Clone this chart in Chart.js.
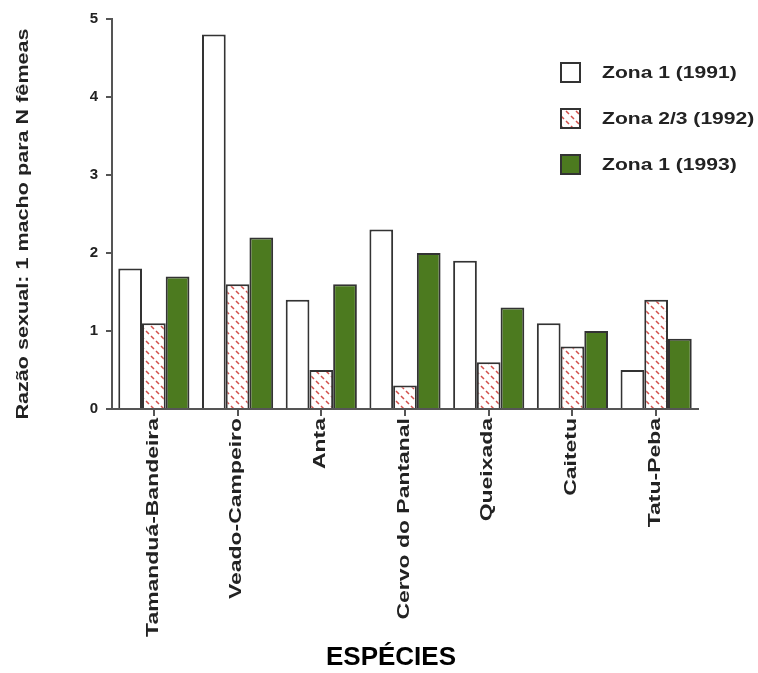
<!DOCTYPE html>
<html>
<head>
<meta charset="utf-8">
<script src="https://cdn.jsdelivr.net/npm/chart.js@4"></script>
<style>
  body { margin: 0; background: #fff; }
  #wrap { width: 758px; height: 673px; }
</style>
</head>
<body>
<div id="wrap"><canvas id="chart" width="758" height="673"></canvas></div>
<script>
// Data
const categories = ['Tamanduá-Bandeira', 'Veado-Campeiro', 'Anta', 'Cervo do Pantanal', 'Queixada', 'Caitetu', 'Tatu-Peba'];
const zona1991 = [1.8, 4.8, 1.4, 2.3, 1.9, 1.1, 0.5];
const zona1992 = [1.1, 1.6, 0.5, 0.3, 0.6, 0.8, 1.4];
const zona1993 = [1.7, 2.2, 1.6, 2.0, 1.3, 1.0, 0.9];
const seriesLabels = ['Zona 1 (1991)', 'Zona 2/3 (1992)', 'Zona 1 (1993)'];
const yTicks = [0, 1, 2, 3, 4, 5];
const yTitle = 'Razão sexual: 1 macho para N fêmeas';
const xTitle = 'ESPÉCIES';

const ink = '#222';
const edge = '#333';
const green = '#4c7a1f';

// hatch pattern: white with small red dashes
function makeHatch() {
    const c = document.createElement('canvas');
    c.width = 10; c.height = 10;
    const g = c.getContext('2d');
    g.fillStyle = '#fff';
    g.fillRect(0, 0, 10, 10);
    g.strokeStyle = '#d2514c';
    g.lineWidth = 1.5;
    g.beginPath();
    g.moveTo(1, 6); g.lineTo(4, 9);
    g.moveTo(6, 1); g.lineTo(9, 4);
    g.stroke();
    return g.createPattern(c, 'repeat');
}
const hatch = makeHatch();

// text drawn with a horizontal stretch, like the scanned figure
function stretchedText(ctx, text, x, y, opts) {
    ctx.save();
    ctx.translate(x, y);
    if (opts.rotate) ctx.rotate(opts.rotate);
    ctx.scale(opts.sx || 1, 1);
    ctx.font = opts.font;
    ctx.fillStyle = opts.color || ink;
    ctx.textAlign = opts.align || 'left';
    ctx.textBaseline = 'middle';
    ctx.fillText(text, 0, 0);
    ctx.restore();
}

const textPlugin = {
    id: 'figureText',
    afterDraw(chart) {
        const ctx = chart.ctx;
        const xs = chart.scales.x;
        const area = chart.chartArea;

        // category labels, rotated
        categories.forEach((name, i) => {
            const x = xs.getPixelForTick(i);
            stretchedText(ctx, name, x - 1, area.bottom + 9, {
                rotate: -Math.PI / 2, sx: 1.35, align: 'right',
                font: 'bold 17px "Liberation Sans", Arial, sans-serif'
            });
        });

        // y title
        stretchedText(ctx, yTitle, 23, 224, {
            rotate: -Math.PI / 2, sx: 1.27, align: 'center',
            font: 'bold 17px "Liberation Sans", Arial, sans-serif'
        });

        // x title
        stretchedText(ctx, xTitle, 391, 658, {
            align: 'center', color: '#000',
            font: 'bold 26px "Liberation Sans", Arial, sans-serif'
        });

        // legend
        const rows = [73, 119, 165];
        chart.data.datasets.forEach((ds, i) => {
            const cy = rows[i];
            ctx.save();
            ctx.fillStyle = ds.backgroundColor;
            ctx.fillRect(561, cy - 10, 19, 19);
            ctx.strokeStyle = edge;
            ctx.lineWidth = 2;
            ctx.strokeRect(561, cy - 10, 19, 19);
            ctx.restore();
            stretchedText(ctx, ds.label, 602, cy, {
                sx: 1.24, font: 'bold 17px "Liberation Sans", Arial, sans-serif'
            });
        });
    }
};

new Chart(document.getElementById('chart'), {
    type: 'bar',
    data: {
        labels: categories,
        datasets: [
            { label: seriesLabels[0], data: zona1991, backgroundColor: '#ffffff' },
            { label: seriesLabels[1], data: zona1992, backgroundColor: hatch },
            { label: seriesLabels[2], data: zona1993, backgroundColor: green }
        ]
    },
    options: {
        responsive: false,
        devicePixelRatio: 1,
        animation: false,
        layout: { padding: { top: 19, right: 60, left: 0, bottom: 0 } },
        datasets: {
            bar: {
                categoryPercentage: 0.85,
                barPercentage: 1.0,
                borderColor: edge,
                borderWidth: 2
            }
        },
        plugins: {
            legend: { display: false },
            tooltip: { enabled: false }
        },
        scales: {
            x: {
                afterFit: (s) => { s.height = 264; },
                grid: { offset: false, drawOnChartArea: false, tickLength: 7, color: '#555', lineWidth: 2 },
                border: { color: '#555', width: 2 },
                ticks: { color: 'rgba(0,0,0,0)', maxRotation: 90, minRotation: 90 }
            },
            y: {
                min: 0,
                max: 5,
                afterFit: (s) => { s.width = 112; },
                afterBuildTicks: (s) => { s.ticks = yTicks.map(v => ({ value: v })); },
                grid: { drawOnChartArea: false, tickLength: 6, color: '#555', lineWidth: 2 },
                border: { color: '#555', width: 2 },
                ticks: {
                    color: ink,
                    padding: 8,
                    font: { family: '"Liberation Sans", Arial, sans-serif', size: 15, weight: 'bold' }
                }
            }
        }
    },
    plugins: [textPlugin]
});
</script>
</body>
</html>
